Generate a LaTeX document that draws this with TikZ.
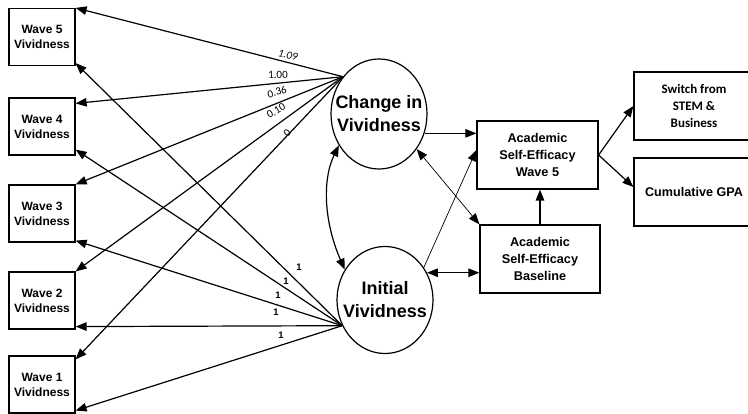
\documentclass[tikz,border=0pt]{standalone}
\usepackage{fontspec}
\setmainfont{Liberation Sans}
\newfontfamily\carl{Carlito}
\usetikzlibrary{arrows.meta,shapes.geometric,calc}
\begin{document}
\begin{tikzpicture}[x=1pt,y=-1pt,
  ln/.style={line width=1.2pt},
  thinln/.style={line width=0.7pt},
  tip/.style={-{Triangle[length=11pt,width=8.5pt]}},
  dtip/.style={{Triangle[length=11pt,width=8.5pt]}-{Triangle[length=11pt,width=8.5pt]}},
  wavebox/.style={draw,line width=1.2pt,minimum width=66pt,minimum height=57pt,inner sep=0pt,align=center,font=\bfseries\fontsize{12}{15}\selectfont},
  latent/.style={draw,ellipse,line width=1.2pt,inner sep=0pt},
  latenttext/.style={align=center,inner sep=0pt,font=\bfseries\fontsize{18}{23}\selectfont},
  outbox/.style={draw,line width=1.2pt,minimum width=120pt,minimum height=68pt,inner sep=0pt,align=center},
  lab/.style={font=\carl\fontsize{11}{11}\selectfont,inner sep=0pt},
  onelab/.style={font=\bfseries\fontsize{9.5}{9.5}\selectfont,inner sep=0pt}
]
\useasboundingbox[fill=white] (0,0) rectangle (748,414);

\node[wavebox] (w5) at (42,37) {Wave 5\\Vividness};
\node[wavebox] (w4) at (42,126.5) {Wave 4\\Vividness};
\node[wavebox] (w3) at (42,213.5) {Wave 3\\Vividness};
\node[wavebox] (w2) at (42,300.5) {Wave 2\\Vividness};
\node[wavebox] (w1) at (42,384.5) {Wave 1\\Vividness};

\node[latent,minimum width=96pt,minimum height=110pt] (chg) at (379,114) {};
\node[latenttext] (chgt) at (chg.center) {Change in\\Vividness};
\node[latent,minimum width=96pt,minimum height=107pt] (ini) at (385,300) {};
\node[latenttext] (init) at (ini.center) {Initial\\Vividness};

\node[outbox,minimum width=121pt,font=\bfseries\fontsize{12.7}{16.7}\selectfont] (ase5) at (537.5,155) {Academic\\Self-Efficacy\\Wave 5};
\node[outbox,font=\bfseries\fontsize{12.7}{16.7}\selectfont] (base) at (540,259) {Academic\\Self-Efficacy\\Baseline};
\node[outbox,font=\carl\bfseries\fontsize{13}{16.7}\selectfont] (sw) at (694,106) {Switch from\\STEM \&\\Business};
\node[outbox,font=\bfseries\fontsize{12.6}{15}\selectfont] (gpa) at (694,192) {Cumulative GPA};

% loadings from Change
\draw[ln,tip] (chg.134) -- (w5.north east);
\draw[ln,tip] (chg.134) -- ($(w4.north east)+(0,6)$);
\draw[ln,tip] (chg.134) -- (w3.north east);
\draw[ln,tip] (chg.134) -- (w2.north east);
\draw[ln,tip] (chg.134) -- ($(w1.north east)+(0,4)$);
% loadings from Initial
\draw[ln,tip] (ini.211) -- ($(w5.south east)+(0,-3)$);
\draw[ln,tip] (ini.211) -- ($(w4.south east)+(0,-6)$);
\draw[ln,tip] (ini.211) -- ($(w3.south east)+(0,-2)$);
\draw[ln,tip] (ini.211) -- ($(w2.south east)+(0,-3)$);
\draw[ln,tip] (ini.211) -- ($(w1.south east)+(0,-3)$);

\node[lab,rotate=-12] (l109) at (288,55) {\itshape 1.09};
\node[lab,rotate=2] (l100) at (278,75) {1.00};
\node[lab,rotate=15] (l036) at (277,92) {0.36};
\node[lab,rotate=30] (l010) at (276,111) {0.10};
\node[lab,rotate=45] (l0) at (287,133) {0};

\node[onelab] (o1) at (299,267) {1};
\node[onelab] (o2) at (286,281) {1};
\node[onelab] (o3) at (278,295) {1};
\node[onelab] (o4) at (276,312) {1};
\node[onelab] (o5) at (281,335) {1};

% covariance between latents
\draw[ln,dtip] (chg.218) .. controls (322,180) and (324,222) .. (ini.143);

% structural paths
\draw[thinln,tip] (chg.-23) -- (ase5.west |- chg.-23);
\draw[thinln,tip] (ini.40) -- ($(ase5.west)+(0,-5)$);
\draw[thinln,dtip] (chg.-43) -- (base.north west);
\draw[ln,dtip] (ini.33) -- (base.west |- ini.33);
\draw[ln,tip] (base.north) -- (base.north |- ase5.south);
\draw[ln,tip] (ase5.east) -- (sw.west);
\draw[ln,tip] (ase5.east) -- ($(gpa.west)+(0,-5)$);
\end{tikzpicture}
\end{document}
